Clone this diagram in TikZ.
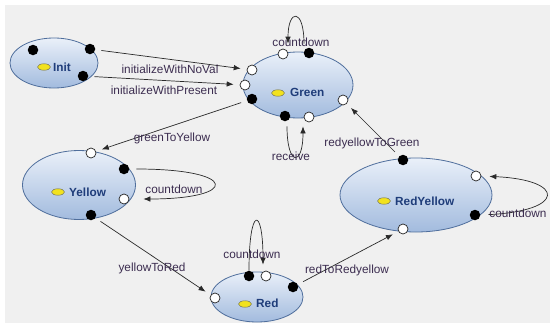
\documentclass[tikz,border=0pt]{standalone}
\usepackage{fontspec}
\setmainfont{Liberation Sans}
\usetikzlibrary{shapes.geometric,arrows.meta,calc}
\definecolor{bgcol}{HTML}{F0F0F0}
\definecolor{statetop}{HTML}{EAF0F9}
\definecolor{statebot}{HTML}{A2BBDE}
\definecolor{stateborder}{HTML}{4F6E9C}
\definecolor{statetext}{HTML}{1F3D7A}
\definecolor{markerfill}{HTML}{F2E21E}
\definecolor{markerborder}{HTML}{7A7A5A}
\definecolor{labeltext}{HTML}{3C2D50}
\definecolor{edgecol}{HTML}{2A2A2A}
\begin{document}
\begin{tikzpicture}[x=1pt,y=-1pt,
 state/.style={ellipse, draw=stateborder, line width=0.8pt, top color=statetop, bottom color=statebot, inner sep=0pt},
 bdot/.style={circle, fill=black, inner sep=0pt, minimum size=10.5pt},
 wdot/.style={circle, draw=black!85, fill=white, line width=0.7pt, inner sep=0pt, minimum size=10pt},
 smark/.style={ellipse, draw=markerborder, fill=markerfill, line width=0.5pt, inner sep=0pt, minimum width=13pt, minimum height=6.5pt},
 sname/.style={anchor=west, inner sep=0pt, text=statetext, font=\fontsize{11.8}{13}\selectfont\bfseries},
 elabel/.style={inner sep=0pt, text=labeltext, font=\fontsize{11.8}{13}\selectfont, text height=8.5pt, text depth=2.5pt},
 conn/.style={draw=edgecol, line width=0.7pt, -{Latex[length=7pt,width=5.5pt]}, shorten <=6pt, shorten >=6pt}]
\useasboundingbox (0,0) rectangle (550,324);
\fill[white] (0,0) rectangle (550,324);
\fill[bgcol] (5,5) rectangle (550,323);

% states
\node[state, minimum width=88pt, minimum height=50pt] (init) at (54,63) {};
\node[state, minimum width=110pt, minimum height=66pt] (green) at (298,85) {};
\node[state, minimum width=113pt, minimum height=69pt] (yellow) at (79,185) {};
\node[state, minimum width=92pt, minimum height=50pt] (red) at (257,297) {};
\node[state, minimum width=152pt, minimum height=74pt] (redyellow) at (416,195) {};

% state names
\node[smark] (initm) at (44,67) {};
\node[sname] (initt) at (53,67) {Init};
\node[smark] (greenm) at (278,93) {};
\node[sname] (greent) at (290,92) {Green};
\node[smark] (yellowm) at (58,192) {};
\node[sname] (yellowt) at (69,192) {Yellow};
\node[smark] (redm) at (245,304) {};
\node[sname] (redt) at (256,303) {Red};
\node[smark] (redyellowm) at (384,201) {};
\node[sname] (redyellowt) at (395,201) {RedYellow};

% ports
\node[bdot] (i1) at (33,50) {};
\node[bdot] (i2) at (90,49) {};
\node[bdot] (i3) at (83,76) {};

\node[wdot] (g1) at (283,54) {};
\node[bdot] (g2) at (309,53) {};
\node[wdot] (g3) at (252,70) {};
\node[wdot] (g4) at (245,85) {};
\node[bdot] (g5) at (252,99) {};
\node[bdot] (g6) at (285,116) {};
\node[wdot] (g7) at (309,117) {};
\node[wdot] (g8) at (343,100) {};

\node[wdot] (y1) at (91,153) {};
\node[bdot] (y2) at (124,169) {};
\node[wdot] (y3) at (124,199) {};
\node[bdot] (y4) at (91,215) {};

\node[wdot] (r1) at (215,298) {};
\node[bdot] (r2) at (249,276) {};
\node[wdot] (r3) at (266,276) {};
\node[bdot] (r4) at (293,287) {};

\node[bdot] (ry1) at (403,160) {};
\node[wdot] (ry2) at (476,176) {};
\node[bdot] (ry3) at (475,215) {};
\node[wdot] (ry4) at (403,229) {};

% transitions
\draw[conn] (i2) -- (g3);
\draw[conn] (i3) -- (g4);
\draw[conn] (g5) -- (y1);
\draw[conn] (y4) -- (r1);
\draw[conn] (r4) -- (ry4);
\draw[conn] (ry1) -- (g8);

% self loops
\draw[conn, shorten <=4pt, shorten >=5pt] ([xshift=-5pt]g2.north) .. controls +(0,-40) and +(0,-40) .. ([xshift=5pt]g1.north);
\draw[conn, shorten <=5pt, shorten >=4pt] ([xshift=2pt]g6.south) .. controls +(0,45) and +(0,45) .. ([xshift=-6pt]g7.south);
\draw[conn, shorten <=7pt, shorten >=14pt] (y2.east) .. controls +(110,0) and +(110,0) .. (y3.east);
\draw[conn, shorten <=0pt, shorten >=6pt] (r2.north) .. controls +(0,-65) and +(0,-65) .. ([xshift=-3pt]r3.north);
\draw[conn, shorten <=8pt, shorten >=8pt] (ry3.east) .. controls +(85,-4) and +(85,4) .. (ry2.east);

% labels
\node[elabel] (l1) at (170,71) {initializeWithNoVal};
\node[elabel] (l2) at (164,91) {initializeWithPresent};
\node[elabel] (l3) at (172,138) {greenToYellow};
\node[elabel] (l4) at (152,268) {yellowToRed};
\node[elabel] (l5) at (347,270) {redToRedyellow};
\node[elabel] (l6) at (372,143) {redyellowToGreen};
\node[elabel] (l7) at (301,43) {countdown};
\node[elabel] (l8) at (291,157) {receive};
\node[elabel] (l9) at (174,190) {countdown};
\node[elabel] (l10) at (252,255) {countdown};
\node[elabel] (l11) at (518,214) {countdown};
\end{tikzpicture}
\end{document}
